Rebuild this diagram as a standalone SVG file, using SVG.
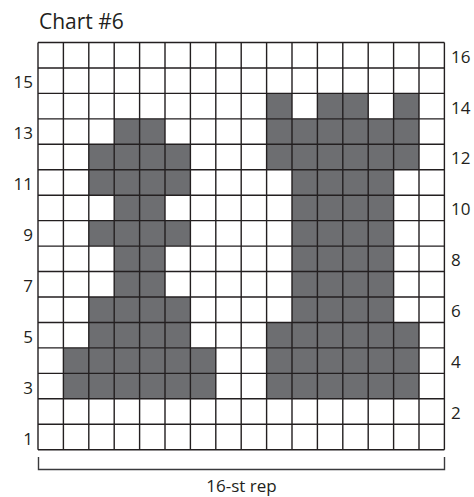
<svg xmlns="http://www.w3.org/2000/svg" width="474" height="497" viewBox="0 0 474 497">
<style>
.t{font-family:"Open Sans","Noto Sans",sans-serif;fill:#231f20}
.lbl{font-size:17px}
.l{text-anchor:end}
.fill{fill:#6d6e71}
.grid{fill:none;stroke:#231f20;stroke-width:1.4;vector-effect:non-scaling-stroke}
.br{fill:none;stroke:#3a3a3c;stroke-width:1.4}
</style>
<rect width="474" height="497" fill="#fff"/>
<text id="title" class="t" x="39" y="29" font-size="21">Chart #6</text>
<g id="chart" transform="translate(38,42.5) scale(25.4,25.45)">
  <g id="cells" class="fill">
    <rect x="3" y="3" width="2" height="11"/>
    <rect x="2" y="4" width="1" height="2"/>
    <rect x="5" y="4" width="1" height="2"/>
    <rect x="2" y="7" width="1" height="1"/>
    <rect x="5" y="7" width="1" height="1"/>
    <rect x="2" y="10" width="1" height="2"/>
    <rect x="5" y="10" width="1" height="2"/>
    <rect x="1" y="12" width="6" height="2"/>
    <rect x="9" y="2" width="1" height="1"/>
    <rect x="11" y="2" width="2" height="1"/>
    <rect x="14" y="2" width="1" height="1"/>
    <rect x="9" y="3" width="6" height="2"/>
    <rect x="10" y="5" width="4" height="6"/>
    <rect x="9" y="11" width="6" height="3"/>
  </g>
  <path id="gridlines" class="grid" d="M0 0H16M0 1H16M0 2H16M0 3H16M0 4H16M0 5H16M0 6H16M0 7H16M0 8H16M0 9H16M0 10H16M0 11H16M0 12H16M0 13H16M0 14H16M0 15H16M0 16H16M0 0V16M1 0V16M2 0V16M3 0V16M4 0V16M5 0V16M6 0V16M7 0V16M8 0V16M9 0V16M10 0V16M11 0V16M12 0V16M13 0V16M14 0V16M15 0V16M16 0V16"/>
</g>
<g id="row-labels-left" class="t lbl l">
  <text x="33" y="88">15</text>
  <text x="33" y="139">13</text>
  <text x="33" y="190">11</text>
  <text x="33" y="241">9</text>
  <text x="33" y="292">7</text>
  <text x="33" y="343">5</text>
  <text x="33" y="394">3</text>
  <text x="33" y="445">1</text>
</g>
<g id="row-labels-right" class="t lbl">
  <text x="451" y="63">16</text>
  <text x="451" y="114">14</text>
  <text x="451" y="164">12</text>
  <text x="451" y="215">10</text>
  <text x="451" y="266">8</text>
  <text x="451" y="317">6</text>
  <text x="451" y="368">4</text>
  <text x="451" y="419">2</text>
</g>
<g id="repeat-bracket">
  <path class="br" d="M38.5 457V469.5H444.5V457"/>
  <text class="t lbl" x="241.5" y="492" text-anchor="middle">16-st rep</text>
</g>
</svg>
